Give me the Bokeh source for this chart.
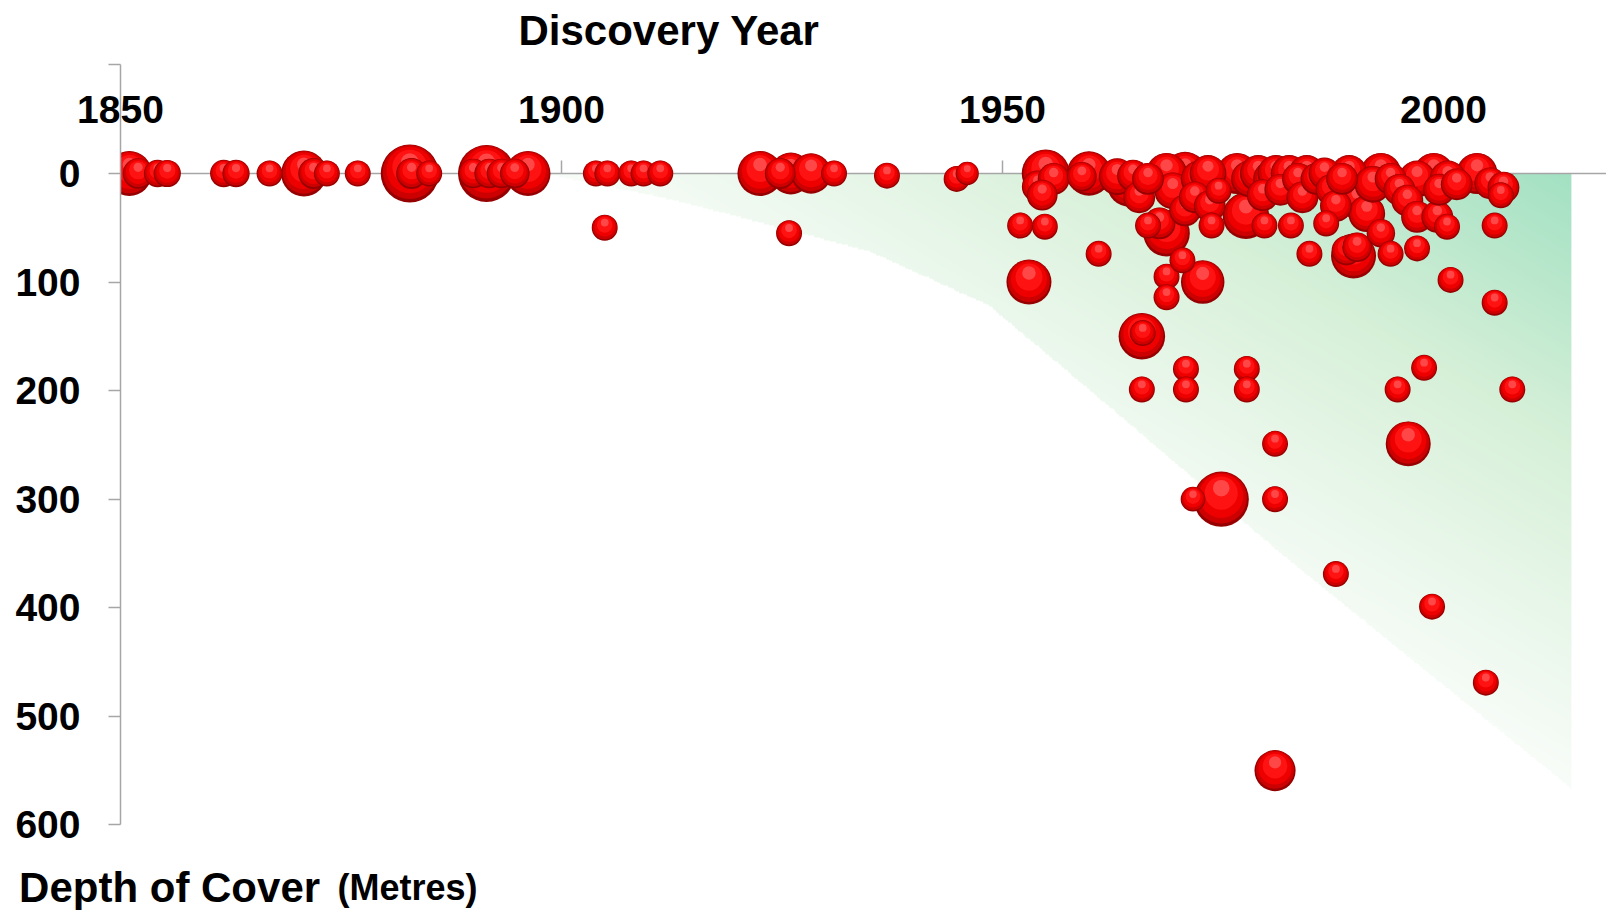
import numpy as np
from bokeh.plotting import figure
from bokeh.models import Range1d, FixedTicker, LinearAxis, Label, ColumnDataSource
from bokeh.embed import file_html
from bokeh.resources import INLINE

# ---------------- data ----------------
years = [1851.0, 1852.0, 1854.2, 1855.3, 1861.7, 1863.1, 1866.9, 1870.8, 1871.9, 1873.4,
         1876.9, 1882.8, 1883.0, 1885.0, 1891.5, 1890.0, 1891.8, 1893.2, 1894.7, 1896.2,
         1903.9, 1905.2, 1904.9, 1907.9, 1909.3, 1911.2, 1922.5, 1924.8, 1926.0, 1928.3,
         1930.9, 1925.8, 1936.9, 1944.8, 1946.0,
         1952.0, 1954.8, 1953.0, 1954.9, 1954.0, 1955.8, 1954.5, 1959.8, 1959.0, 1960.9,
         1963.0, 1964.4, 1964.8, 1965.5, 1966.5, 1965.8, 1965.9, 1965.8, 1966.5, 1967.8,
         1968.6, 1969.3, 1968.6, 1968.6, 1968.6, 1970.4, 1970.7, 1970.7, 1971.8, 1972.3,
         1973.3, 1973.5, 1974.5, 1973.7, 1970.8, 1970.8, 1972.7, 1971.6, 1974.8, 1976.6,
         1977.6, 1978.0, 1979.0, 1979.5, 1979.7, 1980.5, 1981.0, 1981.5, 1982.5, 1982.7,
         1983.5, 1984.0, 1984.5, 1984.8, 1985.6, 1986.5, 1986.7, 1987.3, 1987.8, 1988.5,
         1977.7, 1977.7, 1980.9, 1980.9, 1980.9, 1987.8, 1989.3, 1989.8, 1989.0, 1990.2,
         1990.2, 1991.3, 1992.0, 1992.9, 1992.9, 1994.0, 1994.0, 1995.0, 1995.9, 1997.0,
         1997.0, 1997.0, 1994.8, 1996.0, 1997.8, 1998.7, 1998.9, 1999.3, 1999.5, 2000.4,
         2000.5, 2000.8, 2001.5, 2003.8, 2004.8, 2005.3, 2005.8, 2005.8, 2006.8, 2006.5,
         2007.8]
depths = [0, 0, 0, 0, 0, 0, 0, 0, 0, 0,
          0, 0, 0, 0, 0, 0, 0, 0, 0, 0,
          0, 0, 50, 0, 0, 0, 0, 0, 0, 0,
          0, 55, 2, 5, 0,
          48, 49, 100, 0, 12, 5, 20, 0, 3, 74,
          3, 10, 2, 22, 5, 150, 147, 199, 48, 46,
          0, 16, 55, 95, 114, 80, 0, 34, 22, 5,
          0, 30, 16, 48, 180, 199, 100, 300, 300, 0,
          39, 5, 0, 20, 48, 5, 0, 15, 0, 48,
          5, 22, 0, 74, 5, 0, 46, 15, 30, 5,
          180, 199, 249, 300, 550, 369, 0, 76, 71, 68,
          25, 37, 10, 0, 55, 74, 5, 15, 25, 40,
          5, 69, 199, 249, 179, 399, 0, 40, 15, 49,
          5, 98, 10, 0, 469, 9, 48, 119, 13, 20,
          199]
sizes = [3.0, 1.4, 1.1, 1.1, 1.1, 1.1, 1.0, 3.1, 1.4, 1.0,
         1.0, 5.0, 1.4, 1.0, 4.8, 1.3, 1.3, 1.3, 1.3, 3.0,
         1.0, 1.0, 1.0, 1.0, 1.0, 1.0, 3.0, 1.4, 2.6, 2.4,
         1.0, 1.0, 1.0, 1.0, 0.8,
         1.0, 1.0, 3.0, 3.4, 1.5, 1.5, 1.4, 2.9, 1.3, 1.0,
         2.0, 3.0, 1.5, 1.5, 1.5, 3.2, 1.0, 1.0, 1.0, 1.5,
         2.5, 2.0, 3.2, 1.0, 1.0, 1.0, 2.8, 1.5, 1.5, 2.0,
         2.0, 1.5, 1.0, 1.0, 1.0, 1.0, 2.8, 0.9, 4.5, 2.5,
         3.2, 2.0, 2.0, 1.5, 1.0, 2.0, 2.0, 1.5, 2.0, 1.0,
         1.5, 1.5, 2.0, 1.0, 1.5, 1.5, 1.0, 1.5, 1.5, 1.5,
         1.0, 1.0, 1.0, 1.0, 2.5, 1.0, 2.0, 3.0, 1.3, 1.3,
         2.0, 2.0, 2.0, 2.5, 1.2, 1.0, 1.5, 1.5, 1.5, 1.5,
         2.0, 1.0, 1.0, 3.0, 1.0, 1.0, 2.5, 1.5, 1.5, 1.0,
         2.0, 1.0, 1.5, 2.5, 1.0, 1.5, 1.0, 1.0, 1.5, 1.0,
         1.0]

x_ticks = [1850, 1900, 1950, 2000]
y_ticks = [0, 100, 200, 300, 400, 500, 600]
y_top = -100          # axis extends 100 m above the surface line

# shaded "cover" envelope (year, depth)
env_years = [1898, 1913, 1935, 1948.5, 1964, 1981.5, 2014.5]
env_depths = [0, 25, 72, 122, 228, 350, 567]

# ---------------- layout ----------------
W, H = 1606, 910
AX_X, AX_Y = 120, 173          # canvas px of (1850, depth 0)
PPX = 8.82                     # px per year
PPU = 651.4 / 600              # px per metre
X0 = x_ticks[0] - AX_X / PPX
X1 = x_ticks[0] + (W - AX_X) / PPX
Y1 = AX_Y / PPU
Y0 = -(H - AX_Y) / PPU

p = figure(width=W, height=H, x_range=Range1d(X0, X1), y_range=Range1d(Y0, Y1),
           output_backend="svg", toolbar_location=None,
           x_axis_location=None, y_axis_location=None,
           min_border_left=0, min_border_right=0, min_border_top=0, min_border_bottom=0)
p.outline_line_color = None
p.background_fill_color = "white"
p.border_fill_color = "white"
for g in p.grid:
    g.visible = False

FONT = "Liberation Sans"
AXIS_GREY = "#a6a6a6"

# y axis (depth, shown positive downward)
yax = LinearAxis(ticker=FixedTicker(ticks=[-d for d in y_ticks] + [-y_top]),
                 fixed_location=x_ticks[0], bounds=(-y_ticks[-1], -y_top))
yax.major_label_overrides = {**{-d: str(d) for d in y_ticks}, -y_top: ""}
yax.axis_line_color = AXIS_GREY
yax.axis_line_width = 1.5
yax.major_tick_line_color = AXIS_GREY
yax.major_tick_line_width = 1.5
yax.major_tick_out = 12
yax.major_tick_in = 0
yax.minor_tick_out = 0
yax.minor_tick_in = 0
yax.major_label_standoff = 28
yax.major_label_text_font = FONT
yax.major_label_text_font_size = "39px"
yax.major_label_text_font_style = "bold"
yax.major_label_text_color = "black"
p.add_layout(yax, "left")

# x axis at depth 0
xax = LinearAxis(ticker=FixedTicker(ticks=x_ticks), fixed_location=0,
                 bounds=(x_ticks[0], X1))
xax.axis_line_color = AXIS_GREY
xax.axis_line_width = 1.5
xax.major_tick_line_color = AXIS_GREY
xax.major_tick_line_width = 1.5
xax.major_tick_out = 13
xax.major_tick_in = 0
xax.minor_tick_out = 0
xax.minor_tick_in = 0
xax.major_label_standoff = 38
xax.major_label_text_font = FONT
xax.major_label_text_font_size = "39px"
xax.major_label_text_font_style = "bold"
xax.major_label_text_color = "black"
xax.level = "underlay"
p.add_layout(xax, "above")

# ---------------- green gradient envelope ----------------
nx, ny = 700, 420
ex0, ex1 = env_years[0], env_years[-1]
dmax = env_depths[-1]
gx = np.linspace(ex0, ex1, nx)
gd = np.linspace(dmax, 0, ny)
XX, DD = np.meshgrid(gx, gd)
bound = np.interp(XX, env_years, env_depths)
inside = DD <= bound
u = (XX - ex0) / (ex1 - ex0)
v = 1 - DD / dmax
t = np.clip(((u + v) / 2 - 0.45) / 0.55, 0, 1)
c0 = np.array([255, 255, 255], float)
c1 = np.array([214, 240, 216], float)
c2 = np.array([163, 225, 195], float)
tt = t[..., None]
col = np.where(tt < 0.6, c0 + (c1 - c0) * (tt / 0.6), c1 + (c2 - c1) * ((tt - 0.6) / 0.4))
img = np.zeros((ny, nx), dtype=np.uint32)
view = img.view(dtype=np.uint8).reshape((ny, nx, 4))
view[..., 0] = col[..., 0].astype(np.uint8)
view[..., 1] = col[..., 1].astype(np.uint8)
view[..., 2] = col[..., 2].astype(np.uint8)
view[..., 3] = np.where(inside, 255, 0).astype(np.uint8)
p.image_rgba(image=[img], x=ex0, y=-dmax, dw=ex1 - ex0, dh=dmax, level="image")

# ---------------- bubbles (3D-look via layered circles) ----------------
BUBBLE_PX = 26.0
layers = [
    (1.00, 0.000, "#960000", 1.0),
    (0.93, 0.025, "#cc0000", 1.0),
    (0.80, 0.060, "#ee0000", 1.0),
    (0.60, 0.110, "#ff1212", 1.0),
    (0.30, 0.200, "#ff5a5a", 0.75),
]
bx, by, bs, bc, ba = [], [], [], [], []
order = np.argsort(-np.array(sizes), kind="stable")
for i in order:
    d = BUBBLE_PX * np.sqrt(sizes[i])
    for f, off, c, a in layers:
        bx.append(years[i])
        by.append(-depths[i] + off * d / PPU)
        bs.append(f * d)
        bc.append(c)
        ba.append(a)
src = ColumnDataSource(dict(x=bx, y=by, s=bs, c=bc, a=ba))
p.scatter(x="x", y="y", size="s", fill_color="c", fill_alpha="a", line_color=None, source=src)

# bubbles are clipped at the depth axis (plot-area edge), as in the original
max_r = BUBBLE_PX * np.sqrt(max(sizes)) / 2 / PPU
p.quad(left=X0, right=x_ticks[0], bottom=-y_ticks[-1], top=max_r,
       fill_color="white", line_color=None)

# ---------------- titles ----------------
p.add_layout(Label(x=1912.2, y=132.0, text="Discovery Year", text_font=FONT,
                   text_font_style="bold", text_font_size="42px", text_color="black",
                   text_align="center", text_baseline="alphabetic"))
p.add_layout(Label(x=1838.5, y=-657.6, text="Depth of Cover", text_font=FONT,
                   text_font_style="bold", text_font_size="42px", text_color="black",
                   text_align="left", text_baseline="alphabetic"))
p.add_layout(Label(x=1874.6, y=-657.6, text="(Metres)", text_font=FONT,
                   text_font_style="bold", text_font_size="36px", text_color="black",
                   text_align="left", text_baseline="alphabetic"))

open("out.html", "w").write(file_html(p, INLINE))
